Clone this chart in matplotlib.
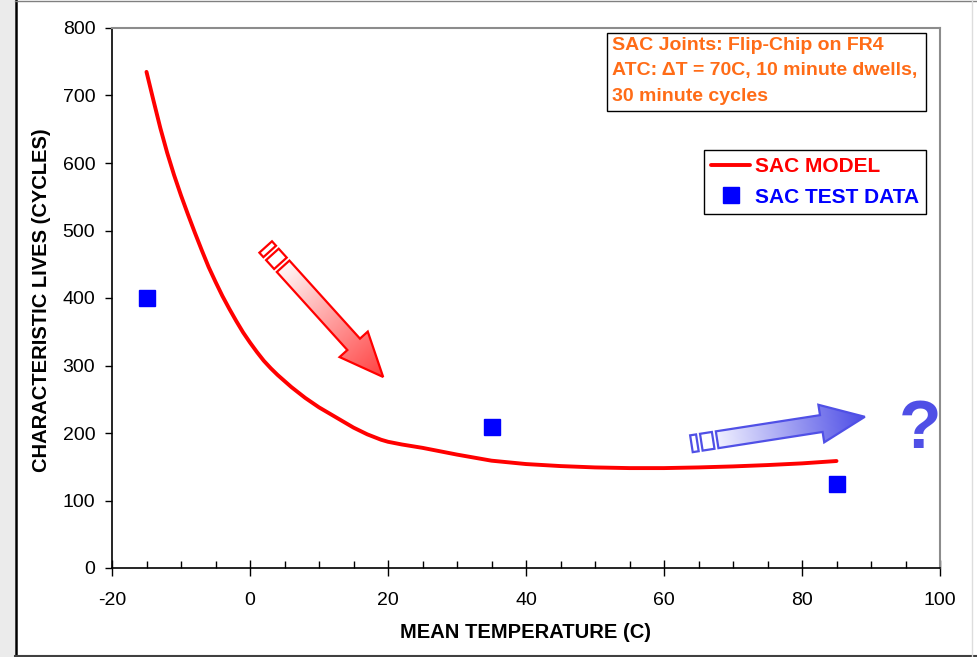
import numpy as np
import matplotlib.pyplot as plt
from matplotlib.patches import Polygon, Rectangle

plt.rcParams['font.family'] = ['Liberation Sans', 'DejaVu Sans']
plt.rcParams['axes.unicode_minus'] = False

# SAC model curve
model_temp = [-15, -14, -13, -12, -11, -10, -9, -8, -7, -6, -5, -4, -3, -2, -1,
              0, 1, 2, 3, 4, 5, 6, 7, 8, 9, 10, 11, 12, 13, 14, 15, 16, 17, 18, 19,
              20, 22, 25, 30, 35, 40, 45, 50, 55, 60, 65, 70, 75, 80, 85]
model_life = [735, 693, 652, 615, 582, 552, 524, 497, 471, 446, 424, 403, 384, 366, 349,
              334, 320, 307, 296, 286, 277, 268, 260, 252, 245, 238, 232, 226, 220, 214,
              208, 203, 198, 194, 190,
              187, 183, 178, 168, 159, 154, 151, 149, 148, 148, 149, 150.5, 152.5, 155, 158.5]

# SAC test data
test_temp = [-15, 35, 85]
test_life = [400, 209, 124]

x_ticks = [-20, 0, 20, 40, 60, 80, 100]
y_ticks = [0, 100, 200, 300, 400, 500, 600, 700, 800]

note_lines = ["SAC Joints: Flip-Chip on FR4",
              "ATC: \u0394T = 70C, 10 minute dwells,",
              "30 minute cycles"]

W, H = 977, 657
fig = plt.figure(figsize=(W / 100, H / 100), dpi=100)
ax = fig.add_axes([112 / W, 1 - 568 / H, (940 - 112) / W, (568 - 28) / H])

ax.plot(model_temp, model_life, color='#ff0000', lw=2.8, label='SAC MODEL',
        solid_capstyle='round', solid_joinstyle='round', zorder=3)
ax.plot(test_temp, test_life, 's', color='#0000ff', ms=11, ls='none',
        label='SAC TEST DATA', zorder=4)

ax.set_xlim(-20, 100)
ax.set_ylim(0, 800)
ax.set_xticks(x_ticks)
ax.set_xticks(np.arange(-20, 101, 5), minor=True)
ax.set_yticks(y_ticks)
ax.tick_params(axis='x', which='major', direction='inout', length=11, width=1,
               labelsize=14, pad=12)
ax.tick_params(axis='x', which='minor', direction='in', length=5, width=1)
ax.tick_params(axis='y', which='major', direction='out', length=5, width=1,
               labelsize=14, pad=7)
for s in ['top', 'right']:
    ax.spines[s].set_color('#8c8c8c')
    ax.spines[s].set_linewidth(1.5)
for s in ['left', 'bottom']:
    ax.spines[s].set_color('black')
    ax.spines[s].set_linewidth(1.2)

fig.text(526 / W, 1 - 632 / H, 'MEAN TEMPERATURE (C)', ha='center', va='center',
         fontsize=14.5, weight='bold')
fig.text(42 / W, 1 - 300 / H, 'CHARACTERISTIC LIVES (CYCLES)', ha='center', va='center',
         rotation=90, fontsize=14.5, weight='bold')

leg = ax.legend(loc='upper right', bbox_to_anchor=(926 / W, 1 - 150 / H),
                bbox_transform=fig.transFigure, fancybox=False, edgecolor='black',
                framealpha=1, prop={'size': 15, 'weight': 'bold'}, handlelength=1.9,
                handletextpad=0.2, borderpad=0.35, labelspacing=0.55, borderaxespad=0)
leg.get_frame().set_linewidth(1.0)
for t, c in zip(leg.get_texts(), ['#ff0000', '#0000ff']):
    t.set_color(c)

# overlay in pixel coordinates (display space)
ov = fig.add_axes([0, 0, 1, 1], zorder=5)
ov.set_xlim(0, W)
ov.set_ylim(0, H)
ov.axis('off')

# frame around the picture
ov.add_patch(Rectangle((0, 0), 15, H, fc='#ebebeb', ec='none'))
ov.plot([15.5, 15.5], [0, H], color='black', lw=1.8)
ov.plot([15, W], [H - 0.5, H - 0.5], color='#808080', lw=1)
ov.plot([15, W], [1, 1], color='#404040', lw=1.5)
ov.plot([972, 972], [0, H], color='#dddddd', lw=1)

# note box
ov.add_patch(Rectangle((607, H - 111), 926 - 607, 111 - 33, fc='white', ec='black', lw=1.0))
ov.text(612, H - 37, '\n'.join(note_lines), ha='left', va='top', color='#ff6c17',
        fontsize=14, weight='bold', linespacing=1.65)


def fancy_arrow(p0, p1, c0, c1, edge):
    p0 = np.asarray(p0, float)
    p1 = np.asarray(p1, float)
    L = np.hypot(*(p1 - p0))
    d = (p1 - p0) / L
    n = np.array([-d[1], d[0]])
    w, hw, hl, g, b2, b1 = 17, 19, 44, 4, 12, 6

    def pts(uv):
        return [p0 + u * d + v * n for u, v in uv]

    body = Polygon(pts([(0, -w / 2), (L - hl, -w / 2), (L - hl, -hw), (L, 0),
                        (L - hl, hw), (L - hl, w / 2), (0, w / 2)]),
                   closed=True, fc='none', ec=edge, lw=1.6, joinstyle='miter', zorder=3)
    ov.add_patch(body)
    xy = np.array(body.get_xy())
    x0, x1 = xy[:, 0].min(), xy[:, 0].max()
    y0, y1 = xy[:, 1].min(), xy[:, 1].max()
    gx, gy = np.meshgrid(np.linspace(x0, x1, 200), np.linspace(y0, y1, 200))
    t = np.clip(((gx - p0[0]) * d[0] + (gy - p0[1]) * d[1]) / L, 0, 1)[..., None]
    rgb = (1 - t) * np.array(c0) + t * np.array(c1)
    im = ov.imshow(rgb, extent=(x0, x1, y0, y1), origin='lower', aspect='auto',
                   interpolation='bilinear', zorder=2)
    im.set_clip_path(body)
    for a, b in [(-g - b2, -g), (-2 * g - b2 - b1, -2 * g - b2)]:
        ov.add_patch(Polygon(pts([(a, -w / 2), (b, -w / 2), (b, w / 2), (a, w / 2)]),
                             closed=True, fc='white', ec=edge, lw=1.6, zorder=3))


fig.canvas.draw()
to_px = ax.transData.transform
fancy_arrow(to_px((4.8, 447)), to_px((19.3, 283)), (1, 0.97, 0.97), (1, 0.25, 0.25), '#ff0000')
fancy_arrow(to_px((67.7, 190)), to_px((89.1, 224)), (0.94, 0.94, 1), (0.3, 0.3, 0.9), '#5050e6')
ov.set_xlim(0, W)
ov.set_ylim(0, H)

qx, qy = to_px((97.1, 204))
ov.text(qx, qy, '?', ha='center', va='center', fontsize=50, weight='bold', color='#4f4fe6')

fig.savefig('out.png', dpi=100)
